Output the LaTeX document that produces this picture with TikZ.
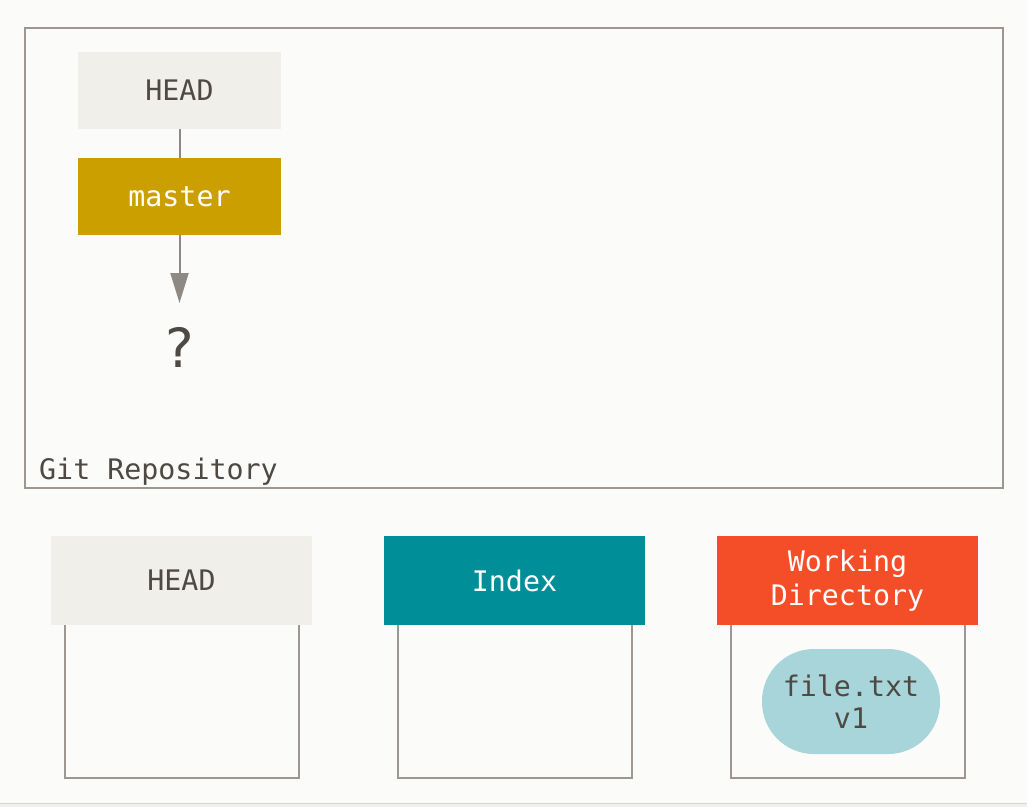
\documentclass[tikz,border=0pt]{standalone}
\usepackage{fontspec}
\setmainfont{DejaVu Sans Mono}
\newfontfamily\qfont{DejaVu Sans}
\usetikzlibrary{arrows.meta}

\definecolor{bgwhite}{HTML}{FBFBF9}
\definecolor{framegray}{HTML}{9C9791}
\definecolor{arrowgray}{HTML}{8E8983}
\definecolor{textdark}{HTML}{4E4943}
\definecolor{headfill}{HTML}{F0EFE9}
\definecolor{gitgold}{HTML}{CC9F00}
\definecolor{indexteal}{HTML}{008F98}
\definecolor{workorange}{HTML}{F44E28}
\definecolor{blobblue}{HTML}{A7D5D9}
\definecolor{stripgray}{HTML}{F0F0EF}

\begin{document}
\begin{tikzpicture}[x=1pt,y=-1pt,
    reffont/.style={font=\fontsize{28.3}{34}\selectfont},
    refbox/.style={rectangle,inner sep=0pt,minimum width=203pt,minimum height=77pt,reffont},
    areabox/.style={rectangle,inner sep=0pt,minimum width=261pt,minimum height=89pt,align=center,reffont},
    frame/.style={draw=framegray,line width=2pt},
    pointer/.style={draw=arrowgray,line width=2pt,-{Triangle[length=30pt,width=18pt]}}]
        % page
        \fill[bgwhite] (0,0) rectangle (1027,807);
        \useasboundingbox (0,0) rectangle (1027,807);
        \fill[stripgray] (0,803) rectangle (1027,807);
        \draw[framegray!40,line width=1pt] (0,803)--(1027,803);

        % repository
        \node[frame,rectangle,inner sep=0pt,minimum width=978pt,minimum height=460pt] (repo) at (514,258) {};
        \node[reffont,text=textdark,anchor=base west,inner sep=0pt] (repolabel) at (39,479) {Git Repository};
        \node[refbox,fill=headfill,text=textdark] (head) at (179.5,90.5) {HEAD};
        \node[refbox,fill=gitgold,text=white] (master) at (179.5,196.5) {master};
        \coordinate (qtop) at (179.5,303);
        \node[anchor=base,inner sep=0pt,text=textdark,font=\qfont\fontsize{54}{60}\selectfont] (qmark) at (180,367) {?};
        \draw[draw=arrowgray,line width=2pt] (head) -- (master);
        \draw[pointer] (master) -- (qtop);

        % three trees
        \node[areabox,fill=headfill,text=textdark] (headarea) at (181.5,580.5) {HEAD};
        \node[areabox,fill=indexteal,text=white] (indexarea) at (514.5,580.5) {Index};
        \node[areabox,fill=workorange,text=white] (workarea) at (847.5,580.5) {Working\\Directory};
        \foreach \a in {headarea,indexarea,workarea}
            \draw[frame] ([xshift=-117pt]\a.south) -- ++(0,153) -- ++(234,0) -- ++(0,-153);
        \node[rectangle,rounded corners=52pt,fill=blobblue,text=textdark,minimum width=178pt,minimum height=105pt,align=center,reffont] (blob) at (851,701.5) {file.txt\\[-2pt]v1};
    \end{tikzpicture}
\end{document}
